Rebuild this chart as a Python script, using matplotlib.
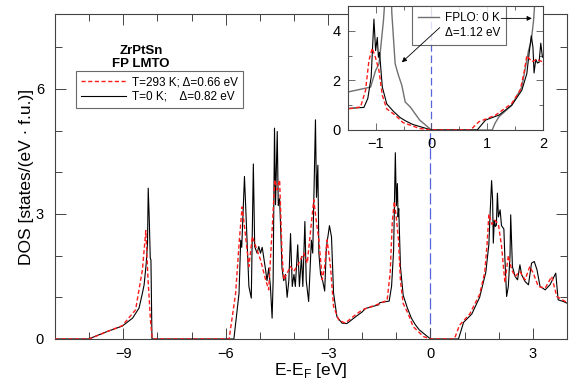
import matplotlib
matplotlib.use('Agg')
import matplotlib.pyplot as plt
from matplotlib.lines import Line2D
from matplotlib.ticker import MultipleLocator

plt.rcParams['font.family'] = ['Liberation Sans', 'DejaVu Sans']
plt.rcParams['mathtext.fontset'] = 'custom'
plt.rcParams['mathtext.rm'] = 'Liberation Sans'

# T=0 K (FP LMTO), energies in eV relative to E_F
e_t0 = [-11.0, -10.02, -9.5, -9.03, -8.73, -8.54, -8.44, -8.39, -8.33, -8.29, -8.27, -8.24,
        -8.21, -8.19, -8.16, -5.76, -5.61, -5.56, -5.53, -5.45, -5.32, -5.25, -5.19, -5.15,
        -5.08, -5.03, -4.98, -4.93, -4.83, -4.79, -4.74, -4.69, -4.64, -4.61, -4.57, -4.54,
        -4.49, -4.46, -4.42, -4.35, -4.30, -4.25, -4.20, -4.15, -4.10, -4.05, -4.00, -3.96,
        -3.89, -3.84, -3.78, -3.74, -3.68, -3.64, -3.57, -3.49, -3.45, -3.37, -3.34, -3.30,
        -3.27, -3.22, -3.16, -3.10, -3.05, -2.96, -2.90, -2.84, -2.74, -2.59, -2.45, -2.20,
        -2.00, -1.91, -1.52, -1.49, -1.21, -1.14, -1.08, -1.03, -1.00, -0.97, -0.95, -0.93,
        -0.88, -0.80, -0.68, -0.56, -0.45, -0.33, -0.15, 0.0, 0.82, 0.97, 1.21, 1.44, 1.62,
        1.71, 1.75, 1.79, 1.82, 1.84, 1.87, 1.90, 1.93, 1.96, 1.99, 2.04, 2.08, 2.15, 2.18,
        2.23, 2.28, 2.33, 2.35, 2.40, 2.48, 2.55, 2.62, 2.67, 2.77, 2.87, 2.96, 3.04, 3.12,
        3.21, 3.36, 3.50, 3.67, 3.74, 3.89, 4.0]
dos_t0 = [0, 0, 0.17, 0.31, 0.5, 0.74, 1.1, 1.3, 1.8, 2.3, 3.62, 2.9,
          1.94, 1.9, 0, 0, 1.09, 2.37, 2.2, 3.9, 1.26, 0.98, 4.2, 2.22,
          2.06, 2.22, 2.06, 2.2, 1.65, 1.4, 1.7, 1.26, 0.5, 1.4, 5.06, 3.22,
          4.98, 3.2, 3.37, 1.7, 1.4, 1.55, 1.0, 1.4, 2.53, 1.26, 1.55, 1.26,
          2.26, 1.26, 1.98, 1.26, 2.82, 1.4, 0.9, 2.37, 2.06, 5.26, 3.4, 4.17,
          2.06, 1.55, 1.4, 1.15, 2.2, 2.72, 2.45, 1.1, 0.53, 0.38, 0.37, 0.53,
          0.65, 0.73, 0.82, 0.87, 0.91, 1.27, 2.13, 4.47, 3.2, 3.73, 2.93, 3.13,
          1.73, 1.05, 0.75, 0.5, 0.35, 0.22, 0.1, 0, 0, 0.4, 0.6, 1.0, 1.6,
          2.27, 3.07, 3.8, 3.33, 2.3, 2.85, 2.7, 2.73, 3.5, 2.93, 3.1, 2.72, 2.64, 1.92,
          1.02, 1.26, 2.0, 2.98, 1.74, 1.5, 1.42, 1.78, 1.54, 1.38, 1.3, 1.82, 1.86, 1.66,
          1.26, 1.18, 1.3, 1.58, 0.94, 0.9, 0.86]

# T=293 K
e_t293 = [-11.0, -10.0, -9.5, -9.03, -8.64, -8.44, -8.34, -8.28, -8.2, -8.15, -5.9, -5.71,
          -5.6, -5.52, -5.45, -5.32, -5.22, -5.12, -4.98, -4.83, -4.74, -4.64, -4.56, -4.49,
          -4.42, -4.35, -4.30, -4.20, -4.10, -4.01, -3.91, -3.81, -3.71, -3.61, -3.52, -3.42,
          -3.35, -3.27, -3.17, -3.10, -3.03, -2.93, -2.84, -2.69, -2.5, -2.2, -2.0, -1.52,
          -1.27, -1.18, -1.12, -1.06, -1.0, -0.94, -0.88, -0.80, -0.65, -0.51, -0.36, -0.21,
          0.0, 0.70, 0.85, 1.15, 1.44, 1.59, 1.66, 1.71, 1.80, 1.89, 1.99, 2.08, 2.18, 2.28,
          2.38, 2.48, 2.62, 2.77, 2.91, 3.01, 3.16, 3.36, 3.55, 3.70, 3.95, 4.0]
dos_t293 = [0, 0, 0.17, 0.32, 0.7, 1.66, 2.6, 1.5, 0.4, 0, 0, 1.09,
            2.37, 3.17, 2.7, 1.74, 2.46, 2.22, 1.9, 1.42, 1.18, 2.62, 3.82, 3.58,
            3.82, 2.06, 1.42, 1.58, 1.74, 1.62, 1.74, 1.9, 2.06, 1.82, 2.54, 3.34,
            2.86, 2.38, 1.42, 1.74, 2.38, 1.74, 0.78, 0.46, 0.38, 0.58, 0.7, 0.84,
            0.93, 1.6, 2.8, 3.3, 2.9, 2.4, 1.4, 0.85, 0.6, 0.3, 0.18, 0.06,
            0, 0, 0.33, 0.6, 1.07, 1.6, 2.3, 3.0, 2.75, 2.85, 2.75, 2.24, 1.36, 2.0,
            1.66, 1.5, 1.62, 1.42, 1.74, 1.58, 1.26, 1.22, 1.5, 1.02, 0.9, 0.88]

# FPLO, T=0 K (inset only)
e_fplo = [-1.5, -1.09, -1.0, -0.94, -0.92, -0.86, -0.78, -0.74, -0.71, -0.65, -0.59, -0.53,
          -0.47, -0.38, -0.21, 0.0, 1.09, 1.14, 1.21, 1.44, 1.62, 1.74, 1.79, 1.83, 1.88, 2.0]
dos_fplo = [1.53, 1.73, 2.4, 2.67, 3.07, 4.4, 7.0, 7.0, 4.73, 2.67, 2.2, 1.8,
            1.13, 0.93, 0.4, 0, 0, 0.27, 0.53, 1.0, 1.73, 3.2, 3.6, 4.4, 6.0, 7.0]

label_t293 = 'T=293 K; \u0394=0.66 eV'
label_t0 = 'T=0 K;    \u0394=0.82 eV'
label_fplo = 'FPLO: 0 K'
gap_fplo = '\u0394=1.12 eV'

red = '#ff1a1a'
blue = '#5566dd'
gray = '#707070'

fig = plt.figure(figsize=(5.72, 3.83), dpi=100)
ax = fig.add_axes([0.0962, 0.1149, 0.8951, 0.8486])

ax.plot(e_t293, dos_t293, color=red, lw=1.0, dashes=(3, 1.8), zorder=3)
ax.plot(e_t0, dos_t0, color='black', lw=0.8, zorder=2)
ax.axvline(0, color=blue, lw=0.9, dashes=(9, 3), zorder=1)

ax.set_xlim(-11, 4)
ax.set_ylim(0, 7.8)
ax.xaxis.set_major_locator(MultipleLocator(3))
ax.xaxis.set_minor_locator(MultipleLocator(1))
ax.yaxis.set_major_locator(MultipleLocator(3))
ax.yaxis.set_minor_locator(MultipleLocator(1))
ax.tick_params(which='both', direction='in', top=True, right=True, width=0.7,
               colors='#444444', labelcolor='black', labelsize=10.5)
ax.tick_params(which='major', length=8, pad=6)
ax.tick_params(which='minor', length=5)
ax.tick_params(axis='y', pad=8)
for s in ax.spines.values():
    s.set_color('#444444')
    s.set_linewidth(0.8)

ax.set_xlabel('E-E$_\\mathregular{F}$ [eV]', fontsize=12.5, labelpad=0)
ax.set_ylabel('DOS [states/(eV \u00b7 f.u.)]', fontsize=12.5, labelpad=1)

ax.text(0.168, 0.866, 'ZrPtSn\nFP LMTO', transform=ax.transAxes, ha='center', va='center',
        fontsize=9.5, fontweight='bold', linespacing=1.05)

handles = [Line2D([], [], color=red, lw=1.0, dashes=(3, 1.8)),
           Line2D([], [], color='black', lw=0.8)]
leg = ax.legend(handles, [label_t293, label_t0], loc='upper left', bbox_to_anchor=(0.041, 0.824),
                fontsize=8.5, frameon=True, fancybox=False, handlelength=3.8, handletextpad=0.5,
                borderpad=0.45, labelspacing=0.2, borderaxespad=0)
leg.get_frame().set_edgecolor('#444444')
leg.get_frame().set_linewidth(0.8)

# inset
ins = fig.add_axes([0.6079, 0.6606, 0.3414, 0.3238])
ins.set_facecolor('white')
ins.plot(e_fplo, dos_fplo, color=gray, lw=1.0, zorder=2)
ins.plot(e_t293, dos_t293, color=red, lw=1.0, dashes=(3, 1.8), zorder=3)
ins.plot(e_t0, dos_t0, color='black', lw=0.8, zorder=2)
ins.axvline(0, color=blue, lw=0.9, dashes=(6, 3), zorder=1)
ins.set_xlim(-1.5, 2)
ins.set_ylim(0, 5)
ins.xaxis.set_major_locator(MultipleLocator(1))
ins.xaxis.set_minor_locator(MultipleLocator(0.5))
ins.yaxis.set_major_locator(MultipleLocator(2))
ins.yaxis.set_minor_locator(MultipleLocator(1))
ins.tick_params(which='both', direction='in', top=True, right=True, width=0.6,
                colors='#555555', labelcolor='black', labelsize=10.5)
ins.tick_params(which='major', length=5, pad=5)
ins.tick_params(which='minor', length=3)
for s in ins.spines.values():
    s.set_color('#444444')
    s.set_linewidth(0.8)

ih = [Line2D([], [], color=gray, lw=1.0), Line2D([], [], color='none')]
ileg = ins.legend(ih, [label_fplo, gap_fplo], loc='upper left', bbox_to_anchor=(0.328, 1.0),
                  fontsize=8.5, frameon=True, fancybox=False, handlelength=1.8,
                  handletextpad=0.5, borderpad=0.5, labelspacing=0.25, borderaxespad=0)
ileg.get_frame().set_edgecolor('#444444')
ileg.get_frame().set_linewidth(0.8)
ileg.set_zorder(5)

arrow = dict(arrowstyle='-|>', color='black', lw=0.6, mutation_scale=7, shrinkA=0, shrinkB=0)
ins.annotate('', xy=(1.80, 4.5), xytext=(1.25, 4.5), arrowprops=arrow, zorder=6)
ins.annotate('', xy=(-0.53, 2.73), xytext=(0.15, 4.13), arrowprops=arrow, zorder=6)

fig.savefig('out.png', dpi=100)
